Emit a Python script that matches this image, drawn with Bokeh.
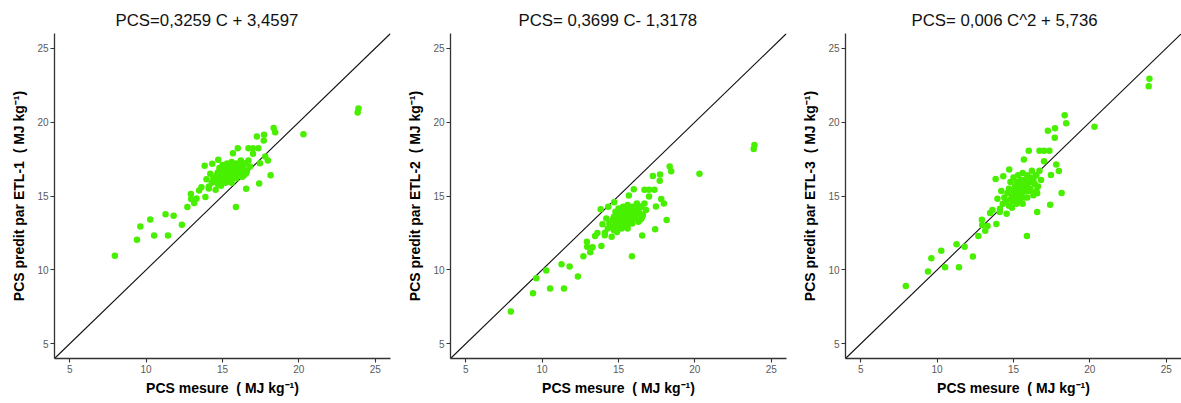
from bokeh.plotting import figure
from bokeh.layouts import row
from bokeh.models import Range1d, Slope, FixedTicker
from bokeh.embed import file_html
from bokeh.resources import INLINE

# measured PCS (shared x values)
pcs_mesure = [
    7.95, 9.40, 9.62, 10.27, 10.52, 11.27, 11.43, 11.80, 12.34, 12.70,
    12.93, 12.95, 13.15, 13.30, 13.47, 13.62, 13.88, 13.83, 13.95, 14.11,
    14.33, 14.55, 14.72, 15.68, 16.00, 15.88, 16.55, 16.70, 17.00, 17.35,
    17.00, 17.25, 17.72, 17.70, 18.35, 18.45, 17.40, 17.45, 17.80, 17.97,
    18.15, 20.30, 23.90, 23.85, 16.55, 16.45,
    14.30, 14.40, 14.50, 14.60, 14.70, 14.70, 14.80, 14.80, 14.90, 14.90,
    15.00, 15.00, 15.00, 15.10, 15.10, 15.20, 15.20, 15.20, 15.30, 15.30,
    15.30, 15.40, 15.40, 15.40, 15.50, 15.50, 15.50, 15.60, 15.60, 15.60,
    15.70, 15.70, 15.70, 15.80, 15.80, 15.90, 15.90, 15.90, 16.00, 16.00,
    16.10, 16.10, 16.20, 16.20, 16.30, 16.30, 16.40, 16.50, 16.60, 16.70,
    16.50, 16.80, 14.10, 14.20, 15.60, 16.40,
]

pred_etl1 = [
    10.95, 12.04, 12.94, 13.41, 12.33, 13.77, 12.33, 13.66, 13.05, 14.25,
    15.13, 14.79, 14.52, 14.83, 15.37, 15.60, 14.93, 17.04, 16.14, 15.64,
    17.18, 15.42, 17.45, 17.90, 18.24, 14.25, 15.49, 18.24, 18.24, 18.24,
    17.86, 19.03, 19.14, 18.75, 19.61, 19.32, 15.85, 17.22, 17.67, 17.40,
    16.41, 19.18, 20.92, 20.65, 16.55, 17.20,
    15.9, 16.2, 16.0, 16.4, 15.8, 16.6, 16.1, 16.9, 16.3, 15.7,
    16.5, 16.0, 17.1, 16.7, 16.2, 16.4, 16.9, 15.9, 16.6, 17.2,
    16.1, 16.8, 16.4, 16.0, 16.6, 17.0, 16.3, 16.8, 16.5, 17.3,
    16.7, 16.2, 17.0, 16.9, 16.5, 16.7, 17.2, 16.2, 16.9, 16.5,
    17.1, 16.6, 16.9, 17.4, 16.3, 17.0, 16.8, 17.2, 16.7, 17.4,
    16.5, 17.0, 15.5, 16.5, 15.9, 16.4,
]

pred_etl2 = [
    7.18, 8.42, 9.44, 9.95, 8.74, 10.38, 8.74, 10.22, 9.55, 10.92,
    11.90, 11.57, 11.20, 11.53, 12.30, 12.50, 11.62, 14.10, 13.08, 12.52,
    14.27, 12.25, 14.58, 15.04, 15.45, 10.92, 12.33, 15.42, 15.42, 15.42,
    14.97, 16.36, 16.46, 16.03, 17.00, 16.67, 12.75, 14.29, 14.80, 14.49,
    13.37, 16.51, 18.46, 18.18, 13.60, 14.28,
    12.80, 13.14, 12.92, 13.37, 12.69, 13.60, 13.03, 13.94, 13.26, 12.57,
    13.48, 12.92, 14.16, 13.71, 13.14, 13.37, 13.94, 12.80, 13.60, 14.28,
    13.03, 13.82, 13.37, 12.92, 13.60, 14.05, 13.26, 13.82, 13.48, 14.39,
    13.71, 13.14, 14.05, 13.94, 13.48, 13.71, 14.28, 13.14, 13.94, 13.48,
    14.16, 13.60, 13.94, 14.50, 13.26, 14.05, 13.82, 14.28, 13.71, 14.50,
    13.48, 14.05, 12.35, 13.48, 12.80, 13.37,
]

pred_etl3 = [
    8.90, 9.89, 10.79, 11.30, 10.18, 11.74, 10.18, 11.57, 10.90, 12.30,
    13.40, 13.04, 12.64, 12.97, 13.85, 14.05, 13.10, 16.15, 14.82, 14.13,
    16.33, 13.80, 16.79, 17.47, 18.07, 12.30, 13.91, 18.06, 18.06, 18.06,
    17.36, 19.42, 19.59, 18.94, 20.47, 19.93, 14.41, 16.42, 17.14, 16.70,
    15.20, 19.69, 22.93, 22.43, 15.18, 16.40,
    14.48, 14.90, 14.62, 15.20, 14.34, 15.49, 14.76, 15.94, 15.05, 14.20,
    15.34, 14.62, 16.25, 15.64, 14.90, 15.20, 15.94, 14.48, 15.49, 16.40,
    14.76, 15.79, 15.20, 14.62, 15.49, 16.09, 15.05, 15.79, 15.34, 16.56,
    15.64, 14.90, 16.09, 15.94, 15.34, 15.64, 16.40, 14.90, 15.94, 15.34,
    16.25, 15.49, 15.94, 16.71, 15.05, 16.09, 15.79, 16.40, 15.64, 16.71,
    15.34, 16.09, 13.92, 15.34, 14.48, 15.20,
]

titles = ["PCS=0,3259 C + 3,4597", "PCS= 0,3699 C- 1,3178", "PCS= 0,006 C^2 + 5,736"]
y_labels = ["PCS predit par ETL-1 \u00a0( MJ kg\u207b\u00b9)",
            "PCS predit par ETL-2 \u00a0( MJ kg\u207b\u00b9)",
            "PCS predit par ETL-3 \u00a0( MJ kg\u207b\u00b9)"]
x_label = "PCS mesure \u00a0( MJ kg\u207b\u00b9)"
tick_values = [5, 10, 15, 20, 25]
axis_limits = [4, 26]

FONT = "Liberation Sans"
POINT_COLOR = "#48f000"


def make_panel(yvals, title, ylabel, left, right, title_offset):
    p = figure(frame_width=336, frame_height=325,
               min_border_left=left, min_border_right=right,
               min_border_top=33, min_border_bottom=44,
               x_range=Range1d(*axis_limits), y_range=Range1d(*axis_limits),
               output_backend="svg", toolbar_location=None, title=title)
    p.title.text_font = FONT
    p.title.text_font_size = "16.8px"
    p.title.text_font_style = "normal"
    p.title.text_color = "#111111"
    p.title.align = "left"
    p.title.offset = title_offset
    p.title.standoff = 8
    p.outline_line_color = None
    p.grid.visible = False
    p.background_fill_color = "white"
    p.border_fill_color = "white"

    for ax in (p.xaxis[0], p.yaxis[0]):
        ax.ticker = FixedTicker(ticks=tick_values)
        ax.axis_line_color = "#333333"
        ax.axis_line_width = 1.3
        ax.major_tick_line_color = "#333333"
        ax.major_tick_line_width = 1.1
        ax.major_tick_out = 4
        ax.major_tick_in = 0
        ax.minor_tick_line_color = None
        ax.major_label_text_font = FONT
        ax.major_label_text_font_size = "10px"
        ax.major_label_text_color = "#5a5a5a"
        ax.axis_label_text_font = FONT
        ax.axis_label_text_font_size = "14px"
        ax.axis_label_text_font_style = "bold"
        ax.axis_label_text_color = "black"

    p.xaxis.axis_label = x_label
    p.yaxis.axis_label = ylabel
    p.xaxis.major_label_standoff = 2
    p.xaxis.axis_label_standoff = 4
    p.yaxis.major_label_standoff = 2
    p.yaxis.axis_label_standoff = 7

    diag = Slope(gradient=1, y_intercept=0, line_color="#111111", line_width=1.1)
    diag.level = "underlay"
    p.add_layout(diag)

    p.scatter(pcs_mesure, yvals, size=6.5, fill_color=POINT_COLOR,
              line_color=None)
    return p


p1 = make_panel(pred_etl1, titles[0], y_labels[0], 54, 4, 61)
p2 = make_panel(pred_etl2, titles[1], y_labels[1], 56, 3, 68)
p3 = make_panel(pred_etl3, titles[2], y_labels[2], 56, 0, 66)

layout = row(p1, p2, p3)

open("out.html", "w").write(file_html(layout, INLINE))
